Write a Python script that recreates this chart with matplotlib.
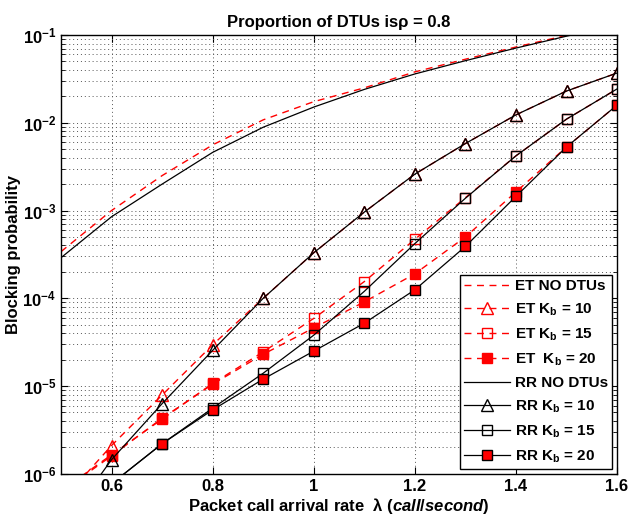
import numpy as np
import matplotlib
matplotlib.use("Agg")
import matplotlib.pyplot as plt
from matplotlib.ticker import LogLocator, NullFormatter

plt.rcParams['font.family'] = ['Liberation Sans', 'DejaVu Sans']
plt.rcParams['font.weight'] = 'bold'
plt.rcParams['mathtext.fontset'] = 'custom'
plt.rcParams['mathtext.rm'] = 'Liberation Sans:bold'
plt.rcParams['mathtext.it'] = 'Liberation Sans:bold:italic'
plt.rcParams['mathtext.bf'] = 'Liberation Sans:bold'

# arrival rates
lam = [0.5, 0.6, 0.7, 0.8, 0.9, 1.0, 1.1, 1.2, 1.3, 1.4, 1.5, 1.6]

# ET curves (red dashed)
et_no = [3.4e-4, 1.0e-3, 2.5e-3, 5.6e-3, 1.08e-2, 1.74e-2, 2.5e-2, 3.8e-2, 5.3e-2, 7.3e-2, 9.9e-2, 1.3e-1]
et_k10 = [4.8e-7, 2.1e-6, 7.9e-6, 2.95e-5, 1.0e-4, 3.3e-4, 9.6e-4, 2.6e-3, 5.8e-3, 1.23e-2, 2.3e-2, 3.69e-2]
et_k15 = [6.4e-7, 1.65e-6, 4.2e-6, 1.07e-5, 2.45e-5, 5.9e-5, 1.55e-4, 4.7e-4, 1.4e-3, 4.2e-3, 1.1e-2, 2.43e-2]
et_k20 = [6.2e-7, 1.6e-6, 4.3e-6, 1.05e-5, 2.3e-5, 4.6e-5, 9.1e-5, 1.9e-4, 5.0e-4, 1.63e-3, 5.3e-3, 1.59e-2]

# RR curves (black solid)
rr_no = [2.9e-4, 8.5e-4, 2.0e-3, 4.6e-3, 8.9e-3, 1.51e-2, 2.4e-2, 3.6e-2, 5.1e-2, 7.1e-2, 9.7e-2, 1.3e-1]
rr_k10 = [2.3e-7, 1.45e-6, 6.3e-6, 2.55e-5, 1.0e-4, 3.3e-4, 9.6e-4, 2.6e-3, 5.8e-3, 1.23e-2, 2.3e-2, 3.69e-2]
rr_k15 = [2.5e-7, 7.7e-7, 2.2e-6, 5.6e-6, 1.4e-5, 3.8e-5, 1.2e-4, 4.2e-4, 1.38e-3, 4.2e-3, 1.1e-2, 2.43e-2]
rr_k20 = [2.5e-7, 7.7e-7, 2.2e-6, 5.35e-6, 1.2e-5, 2.5e-5, 5.2e-5, 1.25e-4, 3.9e-4, 1.45e-3, 5.3e-3, 1.59e-2]

fig = plt.figure(figsize=(6.29, 5.15), dpi=100)
ax = fig.add_axes([0.097, 0.080, 0.884, 0.852])

dash = (0, (5, 4))
ax.plot(lam, et_no, color='red', ls=dash, lw=1, label='ET NO DTUs')
ax.plot(lam, et_k10, color='red', ls=dash, lw=1, marker='^', ms=8, mfc='none', mec='red', label='ET K$_\\mathrm{b}$ = 10')
ax.plot(lam, et_k15, color='red', ls=dash, lw=1, marker='s', ms=7, mfc='none', mec='red', label='ET K$_\\mathrm{b}$ = 15')
ax.plot(lam, et_k20, color='red', ls=dash, lw=1, marker='s', ms=7, mfc='red', mec='red', label='ET  K$_\\mathrm{b}$ = 20')
ax.plot(lam, rr_no, color='black', lw=0.9, label='RR NO DTUs')
ax.plot(lam, rr_k10, color='black', lw=0.9, marker='^', ms=8, mfc='none', mec='black', label='RR K$_\\mathrm{b}$ = 10')
ax.plot(lam, rr_k15, color='black', lw=0.9, marker='s', ms=7, mfc='none', mec='black', label='RR K$_\\mathrm{b}$ = 15')
ax.plot(lam, rr_k20, color='black', lw=0.9, marker='s', ms=7, mfc='red', mec='black', label='RR K$_\\mathrm{b}$ = 20')

ax.set_yscale('log')
ax.set_xlim(0.5, 1.6)
ax.set_ylim(1e-6, 1e-1)
ax.set_xticks([0.6, 0.8, 1.0, 1.2, 1.4, 1.6])
ax.set_xticklabels(['0.6', '0.8', '1', '1.2', '1.4', '1.6'])
ax.yaxis.set_major_locator(LogLocator(base=10, numticks=10))
ax.yaxis.set_minor_locator(LogLocator(base=10, subs=np.arange(2, 10), numticks=10))
ax.yaxis.set_minor_formatter(NullFormatter())

ax.grid(True, which='major', ls=(0, (1, 3)), color='#555555', lw=0.7)
ax.grid(True, which='minor', axis='y', ls=(0, (1, 3)), color='#555555', lw=0.7)
ax.tick_params(which='both', direction='in', top=True, right=True, labelsize=12)
ax.tick_params(which='major', length=5)
ax.tick_params(which='minor', length=3)
for s in ax.spines.values():
    s.set_linewidth(1.0)

ax.set_title('Proportion of DTUs is\u03c1 = 0.8', fontsize=12, fontweight='bold', pad=6)
ax.set_ylabel('Blocking probability', fontsize=12, fontweight='bold')
ax.yaxis.set_label_coords(-0.072, 0.5)
ax.set_xlabel('Packet call arrival rate  \u03bb $\\mathit{(call/second)}$', fontsize=12, fontweight='bold', labelpad=2)

leg = ax.legend(loc='lower right', fontsize=11, frameon=True, fancybox=False,
                edgecolor='black', framealpha=1, borderpad=0.3, labelspacing=0.55,
                handlelength=3.0, handletextpad=0.3, borderaxespad=0.3)
leg.get_frame().set_linewidth(1.0)

fig.savefig('out.png', dpi=100)
